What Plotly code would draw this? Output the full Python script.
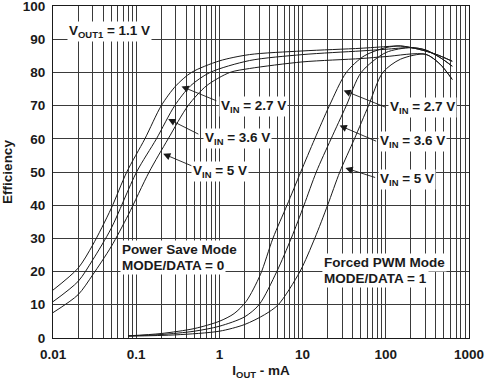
import plotly.graph_objects as go

# ---------------- data ----------------
# Power Save Mode (MODE/DATA = 0)
ps27_x = [0.01, 0.02, 0.03, 0.05, 0.077, 0.127, 0.2, 0.3, 0.46, 1, 2.3, 10, 50, 100, 150, 250, 400, 630]
ps27_y = [14.4, 21, 28, 39, 50, 60, 70, 76, 80, 83.5, 85.4, 86.5, 87.3, 87.8, 88, 87, 85.5, 83.4]
ps36_x = [0.01, 0.02, 0.03, 0.05, 0.101, 0.175, 0.29, 0.45, 0.77, 2.3, 10, 50, 100, 200, 300, 450, 630]
ps36_y = [10.9, 17, 23.5, 33, 50, 60, 70, 76, 80, 83.6, 85.4, 86.5, 87, 87.5, 86.8, 84.5, 81.9]
ps50_x = [0.01, 0.02, 0.03, 0.05, 0.08, 0.143, 0.242, 0.42, 0.7, 1.33, 2.3, 10, 50, 100, 300, 450, 630]
ps50_y = [7.6, 13, 19, 27.5, 37, 50, 60, 70, 76, 80, 81.2, 83.2, 84.2, 84.8, 85.5, 82.5, 77.9]

# Forced PWM Mode (MODE/DATA = 1)
pwm27_x = [0.08, 0.2, 0.5, 1, 1.5, 2.1, 3.1, 4.4, 6.5, 9.5, 14, 21, 33.5, 55, 100, 150, 250, 400, 630]
pwm27_y = [0.6, 1.3, 2.8, 5.0, 7.3, 11, 19, 30, 40, 50, 60, 70, 80, 85, 87.5, 88, 87, 85.5, 83.4]
pwm36_x = [0.08, 0.2, 0.5, 1, 2, 3.0, 4.9, 7.3, 10.4, 14.6, 22, 33.5, 50.6, 100, 200, 300, 450, 630]
pwm36_y = [0.6, 1.0, 2.0, 3.5, 6.3, 10, 20, 30, 40, 50, 60, 70, 80, 86, 87.5, 86.8, 84.5, 81.9]
pwm50_x = [0.08, 0.3, 1, 2, 3.5, 5.1, 9.3, 14, 20, 28, 42, 62, 92, 150, 300, 450, 630]
pwm50_y = [0.5, 0.9, 2.0, 4.0, 7, 10, 20, 30, 40, 50, 60, 70, 80, 84, 85.5, 82.5, 77.9]

y_ticks = [0, 10, 20, 30, 40, 50, 60, 70, 80, 90, 100]
x_major = [0.01, 0.1, 1, 10, 100, 1000]
x_major_text = ["0.01", "0.1", "1", "10", "100", "1000"]

# ---------------- figure ----------------
FONT = "Liberation Sans, Arial, sans-serif"
INK = "#1a1a1a"
GRID = "#3a3a3a"
fig = go.Figure()
for xs, ys in [(ps27_x, ps27_y), (ps36_x, ps36_y), (ps50_x, ps50_y),
               (pwm27_x, pwm27_y), (pwm36_x, pwm36_y), (pwm50_x, pwm50_y)]:
    fig.add_trace(go.Scatter(x=xs, y=ys, mode="lines",
                             line=dict(color=INK, width=1, shape="spline", smoothing=0.8),
                             hoverinfo="skip", showlegend=False))

tickfont = dict(family=FONT, size=13.5, color=INK, weight="bold")
fig.update_xaxes(type="log", range=[-2.0004, 3.0004], tickmode="array",
                 tickvals=x_major, ticktext=x_major_text,
                 showgrid=True, gridcolor=GRID, gridwidth=1,
                 minor=dict(dtick="D1", showgrid=True, gridcolor=GRID, gridwidth=1, ticks=""),
                 showline=True, linecolor=INK, linewidth=1, mirror=True,
                 ticks="", ticklabelstandoff=4, zeroline=False, automargin=False,
                 ticklabeloverflow="allow", tickfont=tickfont,
                 title=dict(text="<b>I<sub>OUT</sub> - mA</b>", standoff=4,
                            font=dict(family=FONT, size=13.5, color=INK)))
fig.update_yaxes(range=[-0.05, 100.05], tickvals=y_ticks,
                 showgrid=True, gridcolor=GRID, gridwidth=1,
                 showline=True, linecolor=INK, linewidth=1, mirror=True,
                 ticks="", ticklabelstandoff=4, zeroline=False, automargin=False,
                 ticklabeloverflow="allow", tickfont=tickfont,
                 title=dict(text="<b>Efficiency</b>", standoff=15,
                            font=dict(family=FONT, size=13.5, color=INK)))

tf = dict(family=FONT, size=13.5, color=INK)
ann = []
def label(x, y, text, align="center", xanchor="center"):
    ann.append(dict(x=x, y=y, xref="x", yref="y", text=text, showarrow=False,
                    bgcolor="white", font=tf, align=align, xanchor=xanchor, borderpad=1))
def arrow(x, y, ax, ay):
    ann.append(dict(x=x, y=y, ax=ax, ay=ay, xref="x", yref="y", axref="x", ayref="y",
                    text="", showarrow=True, arrowhead=2, arrowsize=1.6,
                    arrowwidth=0.9, arrowcolor=INK))

label(-1.316, 92.4, "<b>V<sub>OUT1</sub> = 1.1 V</b>")
label(-1.196, 26.5, "<b>Power Save Mode</b>", align="left", xanchor="left")
label(-1.196, 21.8, "<b>MODE/DATA = 0</b>", align="left", xanchor="left")
label(1.229, 22.8, "<b>Forced PWM Mode</b>", align="left", xanchor="left")
label(1.229, 17.9, "<b>MODE/DATA = 1</b>", align="left", xanchor="left")

label(0.413, 69.8, "<b>V<sub>IN</sub> = 2.7 V</b>")
label(0.221, 60.0, "<b>V<sub>IN</sub> = 3.6 V</b>")
label(0.011, 50.3, "<b>V<sub>IN</sub> = 5 V</b>")
label(2.442, 69.4, "<b>V<sub>IN</sub> = 2.7 V</b>")
label(2.322, 59.1, "<b>V<sub>IN</sub> = 3.6 V</b>")
label(2.250, 47.8, "<b>V<sub>IN</sub> = 5 V</b>")

arrow(-0.456, 75.8, -0.019, 71.3)
arrow(-0.616, 66.0, -0.235, 61.2)
arrow(-0.676, 55.5, -0.319, 51.7)
arrow(1.493, 74.6, 2.010, 69.4)
arrow(1.445, 64.0, 1.902, 59.1)
arrow(1.515, 51.2, 1.890, 48.2)

fig.update_layout(width=489, height=390, margin=dict(l=53, r=20, t=6, b=52),
                  paper_bgcolor="white", plot_bgcolor="white",
                  annotations=ann, font=dict(family=FONT))
fig.write_html("out.html", config={"displayModeBar": False},
               post_script="document.body.style.margin='0';document.body.style.padding='0';")
